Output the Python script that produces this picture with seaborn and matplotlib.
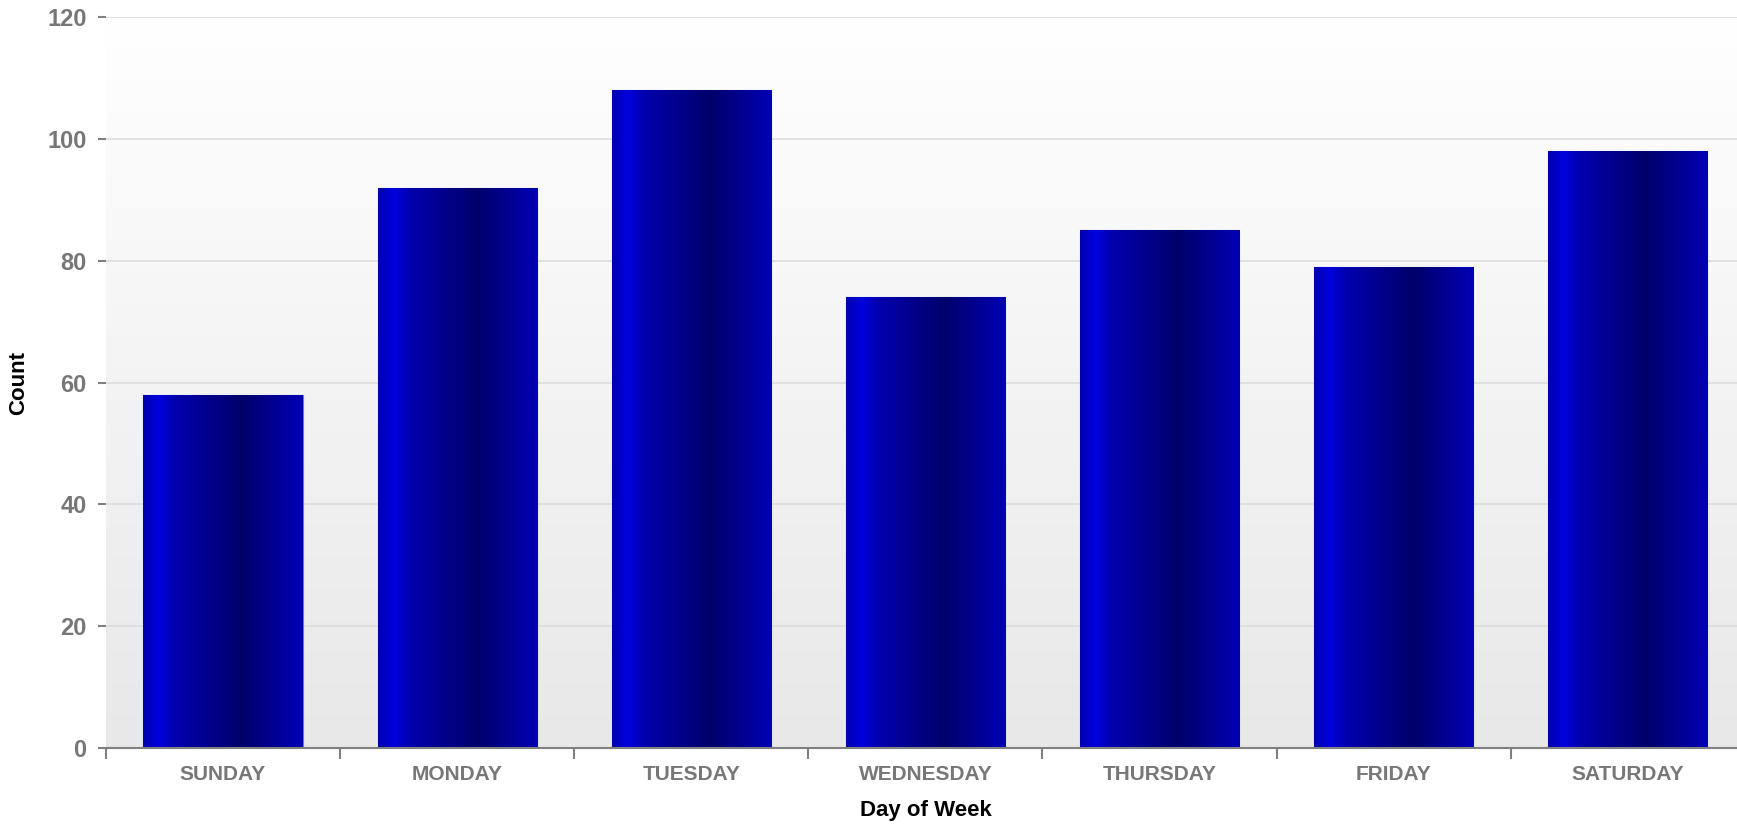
import matplotlib
matplotlib.use("Agg")
import matplotlib.pyplot as plt
import matplotlib.colors as mcolors
import seaborn as sns
import numpy as np

# Data
days = ["SUNDAY", "MONDAY", "TUESDAY", "WEDNESDAY", "THURSDAY", "FRIDAY", "SATURDAY"]
counts = [58, 92, 108, 74, 85, 79, 98]
y_ticks = [0, 20, 40, 60, 80, 100, 120]

sns.set_style("white")
plt.rcParams['font.family'] = ['Liberation Sans', 'DejaVu Sans']

fig = plt.figure(figsize=(17.37, 8.25), dpi=100)
# plot area runs a little past the right edge of the image, as in the source
ax = fig.add_axes([0.061, 0.0933, 0.9435, 0.886])

ax = sns.barplot(x=days, y=counts, color='#0000b0', width=0.68, ax=ax,
                 edgecolor='#7070d8', linewidth=0.8, zorder=3)

# horizontal gradient on each bar, like the source chart
bar_cmap = mcolors.LinearSegmentedColormap.from_list('bar', [
    (0.0, (0, 0, 0.69)),
    (0.10, (0, 0, 0.87)),
    (0.20, (0, 0, 0.68)),
    (0.62, (0, 0, 0.42)),
    (1.0, (0, 0, 0.71)),
])
grad = np.linspace(0, 1, 256).reshape(1, -1)
for patch in ax.patches:
    x0, y0 = patch.get_x(), patch.get_y()
    w, h = patch.get_width(), patch.get_height()
    im = ax.imshow(grad, cmap=bar_cmap, aspect='auto', interpolation='bicubic',
                   extent=[x0, x0 + w, y0, y0 + h], zorder=3.5)
    im.set_clip_path(patch)

# plot background: white at top fading to light grey
bg_cmap = mcolors.LinearSegmentedColormap.from_list('bg', ['#e8e8e8', '#ffffff'])
ax.imshow(np.linspace(0, 1, 256).reshape(-1, 1), cmap=bg_cmap, aspect='auto',
          extent=[0, 1, 0, 1], transform=ax.transAxes, origin='lower', zorder=0)

ax.set_xlim(-0.5, 6.5)
ax.set_ylim(0, 120)
ax.set_yticks(y_ticks)
ax.yaxis.grid(True, color='#dcdcdc', linewidth=1.2, zorder=1)
ax.set_axisbelow(True)

for side in ['left', 'right', 'top']:
    ax.spines[side].set_visible(False)
ax.spines['bottom'].set_color('#808080')
ax.spines['bottom'].set_linewidth(1.5)
ax.spines['bottom'].set_zorder(5)

# category boundaries carry the tick marks
ax.set_xticks(np.arange(-0.5, 6.5, 1.0), minor=True)
ax.tick_params(axis='x', which='major', length=0, pad=12, bottom=True,
               labelsize=15, labelcolor='#777777')
ax.tick_params(axis='x', which='minor', length=8, width=1.5, color='#808080',
               direction='out', bottom=True)
ax.tick_params(axis='y', length=6, width=1.5, color='#808080', pad=8,
               labelsize=17, labelcolor='#777777', left=True)
for lbl in ax.get_xticklabels() + ax.get_yticklabels():
    lbl.set_fontweight('bold')

ax.set_xlabel('Day of Week', fontsize=16, fontweight='bold', color='black', labelpad=12)
ax.set_ylabel('Count', fontsize=16, fontweight='bold', color='black', labelpad=13)

fig.savefig('out.png', dpi=100)
